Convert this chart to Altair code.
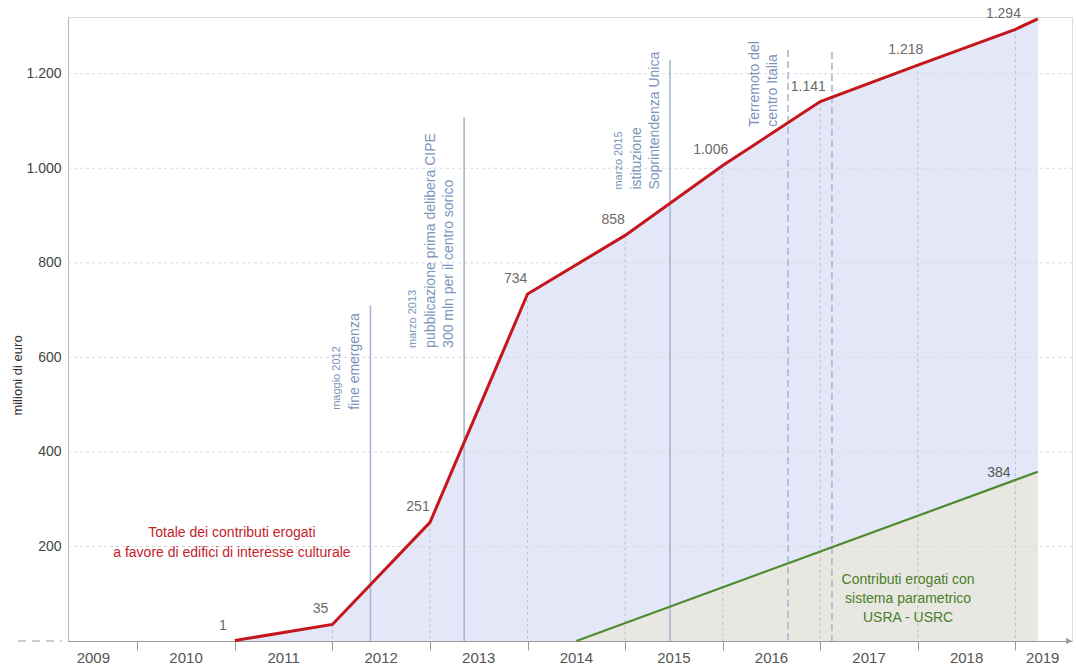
import altair as alt
import pandas as pd

FONT = "Liberation Sans"
W, H = 1004, 624

# ---- data (fractional-year positions) ----
red_t = [2011.0, 2012.0, 2013.0, 2014.0, 2015.0, 2016.0, 2017.0, 2018.0, 2019.0, 2019.23]
red_v = [1, 35, 251, 734, 858, 1006, 1141, 1218, 1294, 1316]
red_lab = ["1", "35", "251", "734", "858", "1.006", "1.141", "1.218", "1.294", ""]

green_t = [2014.5, 2019.23]
green_v = [0, 358]
green_lab = ["", "384"]

year_labels = ["2009", "2010", "2011", "2012", "2013", "2014", "2015", "2016", "2017", "2018", "2019"]
year_label_t = [2009.55, 2010.5, 2011.5, 2012.5, 2013.5, 2014.5, 2015.5, 2016.5, 2017.5, 2018.5, 2019.28]
year_ticks = [2010, 2011, 2012, 2013, 2014, 2015, 2016, 2017, 2018, 2019]

y_ticks = [200, 400, 600, 800, 1000, 1200]

event_t = [2012.39, 2013.35, 2015.46, 2016.67, 2017.12]
event_top = [710, 1108, 1229, 1250, 1246]
event_dashed = [False, False, False, True, True]
event_base = [489, 620, 955, 1088]

note_event = [0, 0, 1, 1, 1, 2, 2, 2, 3, 3]
note_text = ["fine emergenza", "maggio 2012",
             "300 mln per il centro sorico", "pubblicazione prima delibera CIPE", "marzo 2013",
             "Soprintendenza Unica", "istituzione", "marzo 2015",
             "centro Italia", "Terremoto del"]
note_slot = [0, 1, 0, 1, 2, 0, 1, 2, 0, 1]
note_small = [False, True, False, False, True, False, False, True, False, False]

red_note = "Totale dei contributi erogati\na favore di edifici di interesse culturale"
red_note_pos = (2010.97, 229)
green_note = "Contributi erogati con\nsistema parametrico\nUSRA - USRC"
green_note_pos = (2017.90, 130)

# ---- tables ----
red_df = pd.DataFrame({"t": red_t, "v": red_v, "lab": red_lab})
red_df["z"] = 0
green_df = pd.DataFrame({"t": green_t, "v": green_v, "lab": green_lab})
bounds_df = red_df[red_df["t"].isin([2012.0, 2013.0, 2014.0, 2015.0, 2016.0, 2017.0, 2018.0, 2019.0])]
grid_df = pd.DataFrame({"v": y_ticks})
years_df = pd.DataFrame({"t": year_label_t, "lab": year_labels})
ev_df = pd.DataFrame({"t": event_t, "v": event_top, "dashed": event_dashed})
ev_df["z"] = 0
notes_df = pd.DataFrame({
    "t": [event_t[e] for e in note_event],
    "v": [event_base[e] for e in note_event],
    "txt": note_text, "slot": note_slot, "small": note_small,
})
rn_df = pd.DataFrame({"t": [red_note_pos[0]], "v": [red_note_pos[1]], "txt": [red_note]})
gn_df = pd.DataFrame({"t": [green_note_pos[0]], "v": [green_note_pos[1]], "txt": [green_note]})
zero_df = pd.DataFrame({"v": [0]})

x_scale = alt.Scale(domain=[2009.29, 2019.58], nice=False, zero=False)
y_scale = alt.Scale(domain=[0, 1320], nice=False)

X = alt.X("t:Q", scale=x_scale,
          axis=alt.Axis(values=year_ticks, labels=False, tickSize=9, tickColor="#9a9a9a",
                        domainColor="#9a9a9a", grid=False, title=None))
Y = alt.Y("v:Q", scale=y_scale,
          axis=alt.Axis(values=y_ticks,
                        labelExpr="replace(format(datum.value, ','), ',', '.')",
                        grid=False, ticks=False, domainColor="#b5b5b5",
                        labelPadding=7, labelFontSize=14, labelColor="#444", labelFont=FONT,
                        title="milioni di euro", titleFont=FONT, titleFontSize=13,
                        titleFontWeight="normal", titleColor="#333",
                        titleX=-51, titleY=358, titleAngle=270,
                        titleAlign="center", titleBaseline="middle"))

blue_area = alt.Chart(red_df).mark_area(color="#e4e7f8", opacity=1).encode(x=X, y=Y)
gray_area = alt.Chart(green_df).mark_area(color="#e8e7e2", opacity=1).encode(x=X, y=Y)

hgrid = alt.Chart(grid_df).mark_rule(color="#d8d8d8", strokeDash=[3, 3], strokeWidth=1).encode(
    y=Y, x=alt.value(0), x2=alt.value(W))

vgrid = alt.Chart(bounds_df).mark_rule(color="#bfc1c9", strokeDash=[3, 3], strokeWidth=1).encode(
    x=X, y=Y, y2=alt.Y2("z:Q"))

ev_solid = alt.Chart(ev_df[~ev_df["dashed"]]).mark_rule(color="#a9b7d0", strokeWidth=1.6).encode(
    x=X, y=Y, y2=alt.Y2("z:Q"))
ev_dash = alt.Chart(ev_df[ev_df["dashed"]]).mark_rule(color="#a9b7d0", strokeWidth=1.6,
                                                      strokeDash=[7, 4]).encode(
    x=X, y=Y, y2=alt.Y2("z:Q"))

red_line = alt.Chart(red_df).mark_line(color="#c4161c", strokeWidth=3).encode(x=X, y=Y)
green_line = alt.Chart(green_df).mark_line(color="#4e8a2e", strokeWidth=2.2).encode(x=X, y=Y)

red_labels = alt.Chart(red_df[red_df["lab"] != ""]).mark_text(
    dx=-12, dy=-15, fontSize=14, color="#6a6a6a", font=FONT).encode(x=X, y=Y, text="lab:N")
green_label = alt.Chart(green_df[green_df["lab"] != ""]).mark_text(
    dx=-39, dy=1, fontSize=14, color="#555", font=FONT).encode(x=X, y=Y, text="lab:N")

note_layers = []
for slot, dy in [(0, -15), (1, -33), (2, -51)]:
    for small in [False, True]:
        sub = notes_df[(notes_df["slot"] == slot) & (notes_df["small"] == small)]
        if len(sub) == 0:
            continue
        note_layers.append(
            alt.Chart(sub).mark_text(angle=270, align="left", baseline="middle", dy=dy,
                                     fontSize=11 if small else 14, color="#7d93bc", font=FONT)
            .encode(x=X, y=Y, text="txt:N"))

red_note_l = alt.Chart(rn_df).mark_text(lineBreak="\n", lineHeight=20, align="center",
                                        baseline="middle", fontSize=14, color="#c4232b",
                                        font=FONT).encode(x=X, y=Y, text="txt:N")
green_note_l = alt.Chart(gn_df).mark_text(lineBreak="\n", lineHeight=19, align="center",
                                          baseline="middle", fontSize=14, color="#4b7f28",
                                          font=FONT).encode(x=X, y=Y, text="txt:N")

year_text = alt.Chart(years_df).mark_text(fontSize=15, color="#555", font=FONT,
                                          baseline="middle").encode(
    x=X, y=alt.value(H + 17), text="lab:N")

arrow = alt.Chart(zero_df).mark_point(shape="triangle-right", filled=True, size=45,
                                      color="#9a9a9a", opacity=1).encode(
    x=alt.value(W - 3), y=Y)
left_dash = alt.Chart(zero_df).mark_rule(color="#9a9a9a", strokeDash=[8, 6], strokeWidth=1).encode(
    x=alt.value(-50), x2=alt.value(-6), y=Y)

chart = alt.layer(
    blue_area, gray_area, hgrid, vgrid, ev_solid, ev_dash, red_line, green_line,
    red_labels, green_label, *note_layers, red_note_l, green_note_l, year_text, arrow, left_dash
).properties(
    width=W, height=H,
    autosize=alt.AutoSizeParams(type="none"),
    padding={"left": 68, "top": 17, "right": 4, "bottom": 27},
).configure_view(stroke=None).configure(background="white")

chart.save("out.html", embed_options={"renderer": "svg", "actions": False})
